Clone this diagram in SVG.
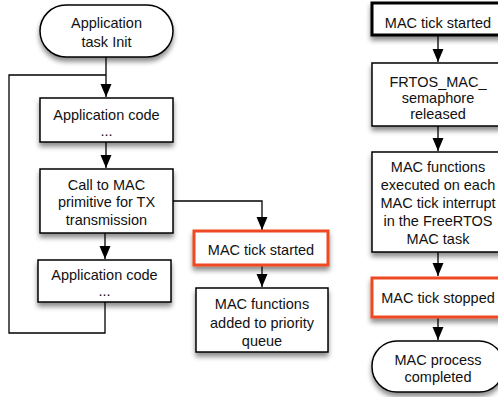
<svg xmlns="http://www.w3.org/2000/svg" width="498" height="397" viewBox="0 0 498 397">
<defs>
<filter id="sh" x="-20%" y="-20%" width="140%" height="150%">
<feDropShadow dx="0" dy="4" stdDeviation="2.5" flood-color="#000" flood-opacity="0.45"/>
</filter>
<marker id="ah" markerWidth="14" markerHeight="14" viewBox="0 0 14 14" refX="13" refY="6" orient="auto" markerUnits="userSpaceOnUse">
<path d="M0,0.5 L13,6 L0,11.5 Z" fill="#000"/>
</marker>
<style>
.n{fill:#fff;stroke:#000;stroke-width:1.5;filter:url(#sh)}
.o{fill:#fff;stroke:#ee4a22;stroke-width:3;filter:url(#sh)}
.k{fill:#fff;stroke:#000;stroke-width:3;filter:url(#sh)}
text{font-family:"Liberation Sans",Arial,sans-serif;font-size:14.5px;fill:#111;text-anchor:middle}
.c{fill:none;stroke:#000;stroke-width:1.3}
</style>
</defs>
<g id="connectors">
<path class="c" d="M106,57 V97" marker-end="url(#ah)"/>
<path class="c" d="M105,302 V333 H9 V75 H106"/>
<path class="c" d="M106,142 V168" marker-end="url(#ah)"/>
<path class="c" d="M105,233 V259" marker-end="url(#ah)"/>
<path class="c" d="M173,201 H262 V230" marker-end="url(#ah)"/>
<path class="c" d="M262,266 V287" marker-end="url(#ah)"/>
<path class="c" d="M438,36 V62" marker-end="url(#ah)"/>
<path class="c" d="M438,126 V151" marker-end="url(#ah)"/>
<path class="c" d="M438,252 V276" marker-end="url(#ah)"/>
<path class="c" d="M438,318 V340" marker-end="url(#ah)"/>
</g>
<g id="app-init">
<rect class="n" x="40" y="5" width="133" height="52" rx="26"/>
<text x="106.5" y="28">Application</text>
<text x="106.5" y="47">task Init</text>
</g>
<g id="app-code-1">
<rect class="n" x="40" y="98" width="133" height="44"/>
<text x="106.5" y="120">Application code</text>
<text x="106.5" y="136">...</text>
</g>
<g id="call-mac">
<rect class="n" x="40" y="169" width="133" height="64"/>
<text x="106.5" y="190">Call to MAC</text>
<text x="106.5" y="207">primitive for TX</text>
<text x="106.5" y="225">transmission</text>
</g>
<g id="app-code-2">
<rect class="n" x="38" y="260" width="133" height="42"/>
<text x="104.5" y="280">Application code</text>
<text x="104.5" y="296">...</text>
</g>
<g id="mac-tick-started-1">
<rect class="o" x="194" y="231" width="134" height="34"/>
<text x="261" y="255">MAC tick started</text>
</g>
<g id="mac-functions-queue">
<rect class="n" x="196" y="288" width="132" height="64"/>
<text x="262" y="309">MAC functions</text>
<text x="262" y="328">added to priority</text>
<text x="262" y="346">queue</text>
</g>
<g id="mac-tick-started-2">
<rect class="k" x="372" y="3" width="132" height="32"/>
<text x="438" y="28">MAC tick started</text>
</g>
<g id="frtos-semaphore">
<rect class="n" x="372" y="63" width="132" height="63"/>
<text x="438" y="87">FRTOS_MAC_</text>
<text x="438" y="103">semaphore</text>
<text x="438" y="119">released</text>
</g>
<g id="mac-functions-exec">
<rect class="n" x="372" y="152" width="132" height="100"/>
<text x="438" y="172">MAC functions</text>
<text x="438" y="190">executed on each</text>
<text x="438" y="208">MAC tick interrupt</text>
<text x="438" y="226">in the FreeRTOS</text>
<text x="438" y="244">MAC task</text>
</g>
<g id="mac-tick-stopped">
<rect class="o" x="372" y="278" width="132" height="39"/>
<text x="438" y="303">MAC tick stopped</text>
</g>
<g id="mac-process-completed">
<rect class="n" x="372" y="341" width="132" height="51" rx="25"/>
<text x="438" y="365">MAC process</text>
<text x="438" y="382">completed</text>
</g>
</svg>
